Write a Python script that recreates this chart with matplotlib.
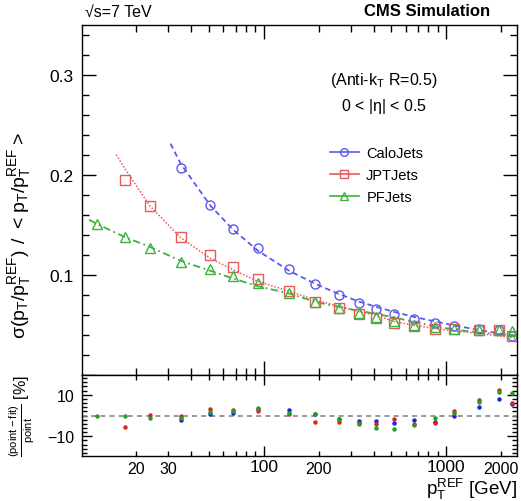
import numpy as np
import matplotlib
matplotlib.use("Agg")
import matplotlib.pyplot as plt
from matplotlib.lines import Line2D
from matplotlib.ticker import FixedLocator, FuncFormatter, MultipleLocator, NullFormatter

plt.rcParams['font.family'] = ['Liberation Sans', 'DejaVu Sans']
plt.rcParams['mathtext.fontset'] = 'custom'
plt.rcParams['mathtext.rm'] = 'Liberation Sans'
plt.rcParams['mathtext.default'] = 'regular'

# --- datos ---
pt_bins = [12.2, 17.3, 23.7, 35, 51, 68, 93, 138, 192, 257, 331, 414, 519, 668, 871, 1110, 1510, 1950, 2290]

calo_x = pt_bins[3:]
calo_y = [0.207, 0.170, 0.146, 0.127, 0.106, 0.091, 0.080, 0.0716, 0.0664, 0.0607,
          0.0564, 0.0522, 0.0488, 0.0455, 0.0445, 0.039]
jpt_x = pt_bins[1:]
jpt_y = [0.195, 0.169, 0.1375, 0.120, 0.108, 0.0957, 0.084, 0.073, 0.0667, 0.0612,
         0.0572, 0.052, 0.0487, 0.0462, 0.0458, 0.045, 0.0445, 0.0388]
pf_x = pt_bins
pf_y = [0.1507, 0.1377, 0.1267, 0.1127, 0.106, 0.0985, 0.0917, 0.0823, 0.0733, 0.0667,
        0.0617, 0.0575, 0.0538, 0.0496, 0.0475, 0.0456, 0.0452, 0.0453, 0.0435]

# curvas de ajuste (muestreadas a ojo)
calo_fit_x = [30.8, 35, 51, 68, 93, 138, 192, 257, 331, 414, 519, 668, 871, 1110, 1510, 1950, 2450]
calo_fit_y = [0.231, 0.211, 0.169, 0.145, 0.124, 0.104, 0.091, 0.081, 0.0735, 0.068,
              0.063, 0.058, 0.0535, 0.0495, 0.045, 0.0415, 0.0385]
jpt_fit_x = [15.5, 17.3, 23.7, 35, 51, 68, 93, 138, 192, 257, 331, 414, 519, 668, 871, 1110, 1510, 1950, 2450]
jpt_fit_y = [0.220, 0.206, 0.169, 0.137, 0.1165, 0.105, 0.0935, 0.0836, 0.075, 0.0687,
             0.0634, 0.0595, 0.0535, 0.0495, 0.0465, 0.044, 0.0415, 0.039, 0.0365]
pf_fit_x = [11.0, 12.2, 17.3, 23.7, 35, 51, 68, 93, 138, 192, 257, 331, 414, 519, 668, 871, 1110, 1510, 1950, 2450]
pf_fit_y = [0.155, 0.1507, 0.1377, 0.128, 0.114, 0.104, 0.0963, 0.0886, 0.0814, 0.073,
            0.068, 0.0642, 0.061, 0.0575, 0.053, 0.0486, 0.0453, 0.0425, 0.0407, 0.0395]

# residuos (punto-ajuste)/punto en %
calo_res = [-2, 0.9, 1.2, 3, 2.8, 0.6, -1.5, -2.8, -2.8, -3.5, -2.3, -3, 0, 3.9, 8, 5.7]
jpt_res = [-5.7, 0.3, 0, 3, 2.8, 2.3, 0.5, -3.1, -3.1, -3.4, -3.9, -1.5, -4.2, -3.5, 2, 7.3, 12.5, 6]
pf_res = [0, 0, -1, -1.2, 1.9, 2, 3.4, 1.1, 0.5, -1.9, -4, -5.9, -6.5, -4.6, -1.2, 1.1, 6.5, 11.2, 10.9]

BLUE = '#5a5af0'
RED = '#e85a5a'
GREEN = '#3cb43c'

W, H = 521, 502
fig = plt.figure(figsize=(W / 100, H / 100), dpi=100)
x0, x1 = 81.5, 517
ax = fig.add_axes([x0 / W, 1 - 376 / H, (x1 - x0) / W, (376 - 25.5) / H])
axr = fig.add_axes([x0 / W, 1 - 457 / H, (x1 - x0) / W, (457 - 376) / H])

# --- panel principal ---
ax.plot(calo_fit_x, calo_fit_y, ls=(0, (3, 2)), color=BLUE, lw=1.3)
ax.plot(jpt_fit_x, jpt_fit_y, ls=(0, (1, 1.2)), color=RED, lw=1.1)
ax.plot(pf_fit_x, pf_fit_y, ls=(0, (4, 2, 1, 2)), color=GREEN, lw=1.3)
ax.plot(calo_x, calo_y, 'o', mfc='none', mec=BLUE, ms=6.5, mew=1.0)
ax.plot(jpt_x, jpt_y, 's', mfc='none', mec=RED, ms=6.5, mew=1.0)
ax.plot(pf_x, pf_y, '^', mfc='none', mec=GREEN, ms=6.5, mew=1.0)

handles = [Line2D([], [], color=BLUE, marker='o', mfc='none', ms=5.5, lw=1.2),
           Line2D([], [], color=RED, marker='s', mfc='none', ms=5.5, lw=1.2),
           Line2D([], [], color=GREEN, marker='^', mfc='none', ms=5.5, lw=1.2)]
ax.legend(handles, ['CaloJets', 'JPTJets', 'PFJets'], loc='upper left',
          bbox_to_anchor=(0.54, 0.69), frameon=False, fontsize=10.5,
          handlelength=2.0, labelspacing=0.55, handletextpad=0.5)

xmin, xmax = 10, 2450
for a in (ax, axr):
    a.set_xscale('log')
    a.set_xlim(xmin, xmax)
    a.xaxis.set_major_locator(FixedLocator([100, 1000]))
    a.xaxis.set_minor_locator(FixedLocator([20, 30, 40, 50, 60, 70, 80, 90,
                                            200, 300, 400, 500, 600, 700, 800, 900, 2000]))
    a.tick_params(which='both', direction='in', top=True, right=True, labelsize=11.5)
    for s in a.spines.values():
        s.set_linewidth(1.0)

ax.set_ylim(0, 0.35)
ax.yaxis.set_major_locator(MultipleLocator(0.1))
ax.yaxis.set_minor_locator(MultipleLocator(0.02))
ax.yaxis.set_major_formatter(FuncFormatter(lambda v, p: '' if v == 0 else f'{v:.1f}'))
ax.tick_params(which='major', length=10, width=1.0)
ax.tick_params(which='minor', length=5, width=1.0)
ax.xaxis.set_major_formatter(NullFormatter())
ax.xaxis.set_minor_formatter(NullFormatter())
ax.tick_params(axis='y', labelsize=12.5, pad=6)

# --- panel de residuos ---
axr.axhline(0, color='#888888', ls=(0, (3, 2.5)), lw=1.2)
axr.plot(calo_x, calo_res, 'o', color='#2020e0', ms=3.2, mew=0)
axr.plot(jpt_x, jpt_res, 'o', color='#e02020', ms=3.2, mew=0)
axr.plot(pf_x, pf_res, 'o', color='#20a020', ms=3.2, mew=0)
axr.set_ylim(-19.5, 19.5)
axr.yaxis.set_major_locator(FixedLocator([-10, 10]))
axr.yaxis.set_minor_locator(MultipleLocator(2))
axr.tick_params(which='major', length=7, width=1.0)
axr.tick_params(which='minor', length=3.5, width=1.0)
axr.tick_params(axis='y', labelsize=11.5, pad=5)
axr.tick_params(axis='x', labelsize=12.5, pad=2)
axr.xaxis.set_major_formatter(FuncFormatter(lambda v, p: f'{v:g}'))
axr.xaxis.set_minor_formatter(FuncFormatter(lambda v, p: f'{v:g}' if v in (20, 30, 200, 2000) else ''))

# --- textos ---
fig.text(85 / W, 1 - 12 / H, '\u221as=7 TeV', ha='left', va='center', fontsize=11.5)
fig.text(490 / W, 1 - 12 / H, 'CMS Simulation', ha='right', va='center',
         fontsize=12, fontweight='bold')
fig.text(384 / W, 1 - 80 / H, r'(Anti-k$_{T}$ R=0.5)', ha='center', va='center', fontsize=11.5)
fig.text(384 / W, 1 - 106 / H, r'0 < |$\eta$| < 0.5', ha='center', va='center', fontsize=11.5)
fig.text(20 / W, 1 - 236 / H, r'$\sigma(p_{T}/p_{T}^{REF})\ /\ <p_{T}/p_{T}^{REF}>$',
         rotation=90, ha='center', va='center', fontsize=14)
fig.text(22 / W, 1 - 416 / H, r'$\frac{(point-fit)}{point}$ [%]',
         rotation=90, ha='center', va='center', fontsize=11.5)
fig.text(x1 / W, 1 - 489 / H, r'$p_{T}^{REF}$ [GeV]', ha='right', va='center', fontsize=13.5)

fig.savefig('out.png', dpi=100)
